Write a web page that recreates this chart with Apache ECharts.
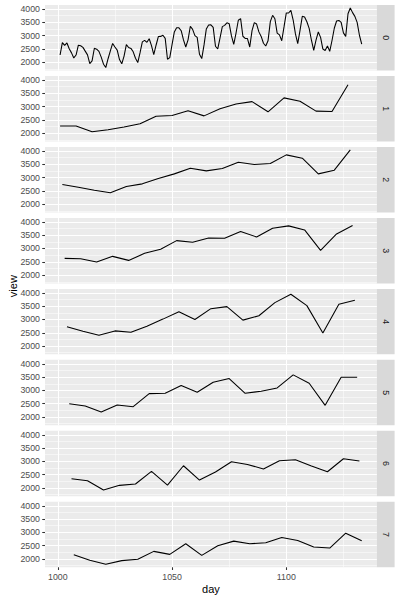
<!DOCTYPE html>
<html><head><meta charset="utf-8">
<script src="https://cdn.jsdelivr.net/npm/echarts@6/dist/echarts.min.js"></script>
<style>html,body{margin:0;padding:0;background:#fff}#c{width:400px;height:600px}</style>
</head><body><div id="c"></div>
<script>
// ---- data (views per day; panels 1..7 are every 7th day, panel 0 is the full daily series) ----
const facetLabels = ['0','1','2','3','4','5','6','7'];
const firstDay = 1001;
const weeks = 19;
const dow1 = [2270,2270,2050,2130,2230,2357,2637,2662,2841,2650,2917,3096,3185,2803,3325,3197,2828,2815,3822];
const dow2 = [2738,2637,2525,2425,2662,2762,2962,3137,3350,3250,3337,3575,3487,3525,3850,3725,3137,3275,4037];
const dow3 = [2629,2616,2491,2704,2553,2818,2969,3296,3233,3396,3384,3635,3434,3761,3849,3698,2931,3547,3862];
const dow4 = [2722,2557,2405,2570,2519,2747,3013,3291,3000,3405,3481,2975,3139,3633,3949,3519,2494,3570,3722];
const dow5 = [2503,2415,2189,2453,2390,2881,2893,3182,2931,3308,3447,2893,2969,3094,3585,3270,2440,3497,3497];
const dow6 = [2350,2275,1925,2100,2150,2625,2112,2837,2300,2600,2987,2887,2712,3025,3062,2825,2612,3100,3012];
const dow7 = [2161,1950,1801,1938,1988,2286,2174,2571,2137,2497,2671,2571,2609,2807,2696,2447,2410,2969,2683];
const xTicks = [1000,1050,1100];
const xMinorTicks = [1025,1075,1125];
const yTicks = [2000,2500,3000,3500,4000];
const yMinorTicks = [1750,2250,2750,3250,3750];
const xTitle = 'day';
const yTitle = 'view';

// ---- build series data ----
const byDow = [dow1,dow2,dow3,dow4,dow5,dow6,dow7];
const panelData = [];
const daily = [];
for (let j = 0; j < weeks; j++) {
  for (let k = 0; k < 7; k++) daily.push([firstDay + 7*j + k, byDow[k][j]]);
}
panelData.push(daily);
for (let k = 0; k < 7; k++) {
  panelData.push(byDow[k].map((v, j) => [firstDay + k + 7*j, v]));
}
const allVals = daily.map(d => d[1]);
const yLo = Math.min(...allVals), yHi = Math.max(...allVals);
const yMin = yLo - 0.05*(yHi-yLo), yMax = yHi + 0.05*(yHi-yLo);
const xLo = daily[0][0], xHi = daily[daily.length-1][0];
const xMin = xLo - 0.05*(xHi-xLo), xMax = xHi + 0.05*(xHi-xLo);

// ---- layout ----
const FONT = '"Liberation Sans", Arial, Helvetica, sans-serif';
const plain = v => String(Math.round(v));
const panelLeft = 45, panelRight = 376.8, stripW = 17.8;
const top0 = 5, panelH = 65.47, gap = 5.5;
const grids = [], xAxes = [], yAxes = [], series = [], graphics = [];
for (let k = 0; k < 8; k++) {
  const top = top0 + k*(panelH+gap);
  const last = k === 7;
  grids.push({left: panelLeft, top: top, width: panelRight-panelLeft, height: panelH,
    show: true, backgroundColor: '#EBEBEB', borderWidth: 0});
  xAxes.push({gridIndex: k, type: 'value', min: xMin, max: xMax, position: 'bottom',
    axisLine: {show: false},
    axisTick: {show: last, length: 2.75, customValues: xTicks, lineStyle: {color: '#333333', width: 1.07}},
    axisLabel: {show: last, customValues: xTicks, formatter: plain, color: '#4D4D4D', fontSize: 8.8, fontFamily: FONT, margin: 5},
    splitLine: {show: true, lineStyle: {color: '#FFFFFF', width: 1.07}}
  });
  xAxes.push({gridIndex: k, type: 'value', min: xMin, max: xMax, position: 'top',
    axisLine: {show: false},
    axisTick: {show: false, customValues: xMinorTicks},
    axisLabel: {show: false, customValues: xMinorTicks},
    splitLine: {show: true, lineStyle: {color: '#FFFFFF', width: 0.53}}
  });
  yAxes.push({gridIndex: k, type: 'value', min: yMin, max: yMax, position: 'left',
    axisLine: {show: false},
    axisTick: {show: true, length: 2.75, customValues: yTicks, lineStyle: {color: '#333333', width: 1.07}},
    axisLabel: {show: true, customValues: yTicks, formatter: plain, color: '#4D4D4D', fontSize: 8.8, fontFamily: FONT, margin: 5},
    splitLine: {show: true, lineStyle: {color: '#FFFFFF', width: 1.07}}
  });
  yAxes.push({gridIndex: k, type: 'value', min: yMin, max: yMax, position: 'right',
    axisLine: {show: false},
    axisTick: {show: false, customValues: yMinorTicks},
    axisLabel: {show: false, customValues: yMinorTicks},
    splitLine: {show: true, lineStyle: {color: '#FFFFFF', width: 0.53}}
  });
  series.push({type: 'line', xAxisIndex: 2*k, yAxisIndex: 2*k, data: panelData[k],
    showSymbol: false, symbol: 'none', silent: true,
    lineStyle: {color: '#000000', width: 1.07}, z: 5});
  // facet strip
  graphics.push({type: 'rect', shape: {x: panelRight, y: top, width: stripW, height: panelH},
    style: {fill: '#D9D9D9'}, silent: true});
  graphics.push({type: 'text', x: panelRight + stripW/2, y: top + panelH/2, rotation: -Math.PI/2,
    style: {text: facetLabels[k], fill: '#1A1A1A', font: '8.8px ' + FONT, align: 'center', verticalAlign: 'middle'}});
}
graphics.push({type: 'text', x: (panelLeft+panelRight)/2, y: 589, style: {text: xTitle, fill: '#000000',
  font: '11px ' + FONT, align: 'center', verticalAlign: 'middle'}});
graphics.push({type: 'text', x: 13.3, y: top0 + (8*panelH + 7*gap)/2, rotation: Math.PI/2,
  style: {text: yTitle, fill: '#000000', font: '11px ' + FONT, align: 'center', verticalAlign: 'middle'}});

const chart = echarts.init(document.getElementById('c'), null, {renderer: 'svg', width: 400, height: 600});
chart.setOption({
  animation: false,
  backgroundColor: '#FFFFFF',
  textStyle: {fontFamily: FONT},
  grid: grids, xAxis: xAxes, yAxis: yAxes, series: series, graphic: graphics
});
</script></body></html>
